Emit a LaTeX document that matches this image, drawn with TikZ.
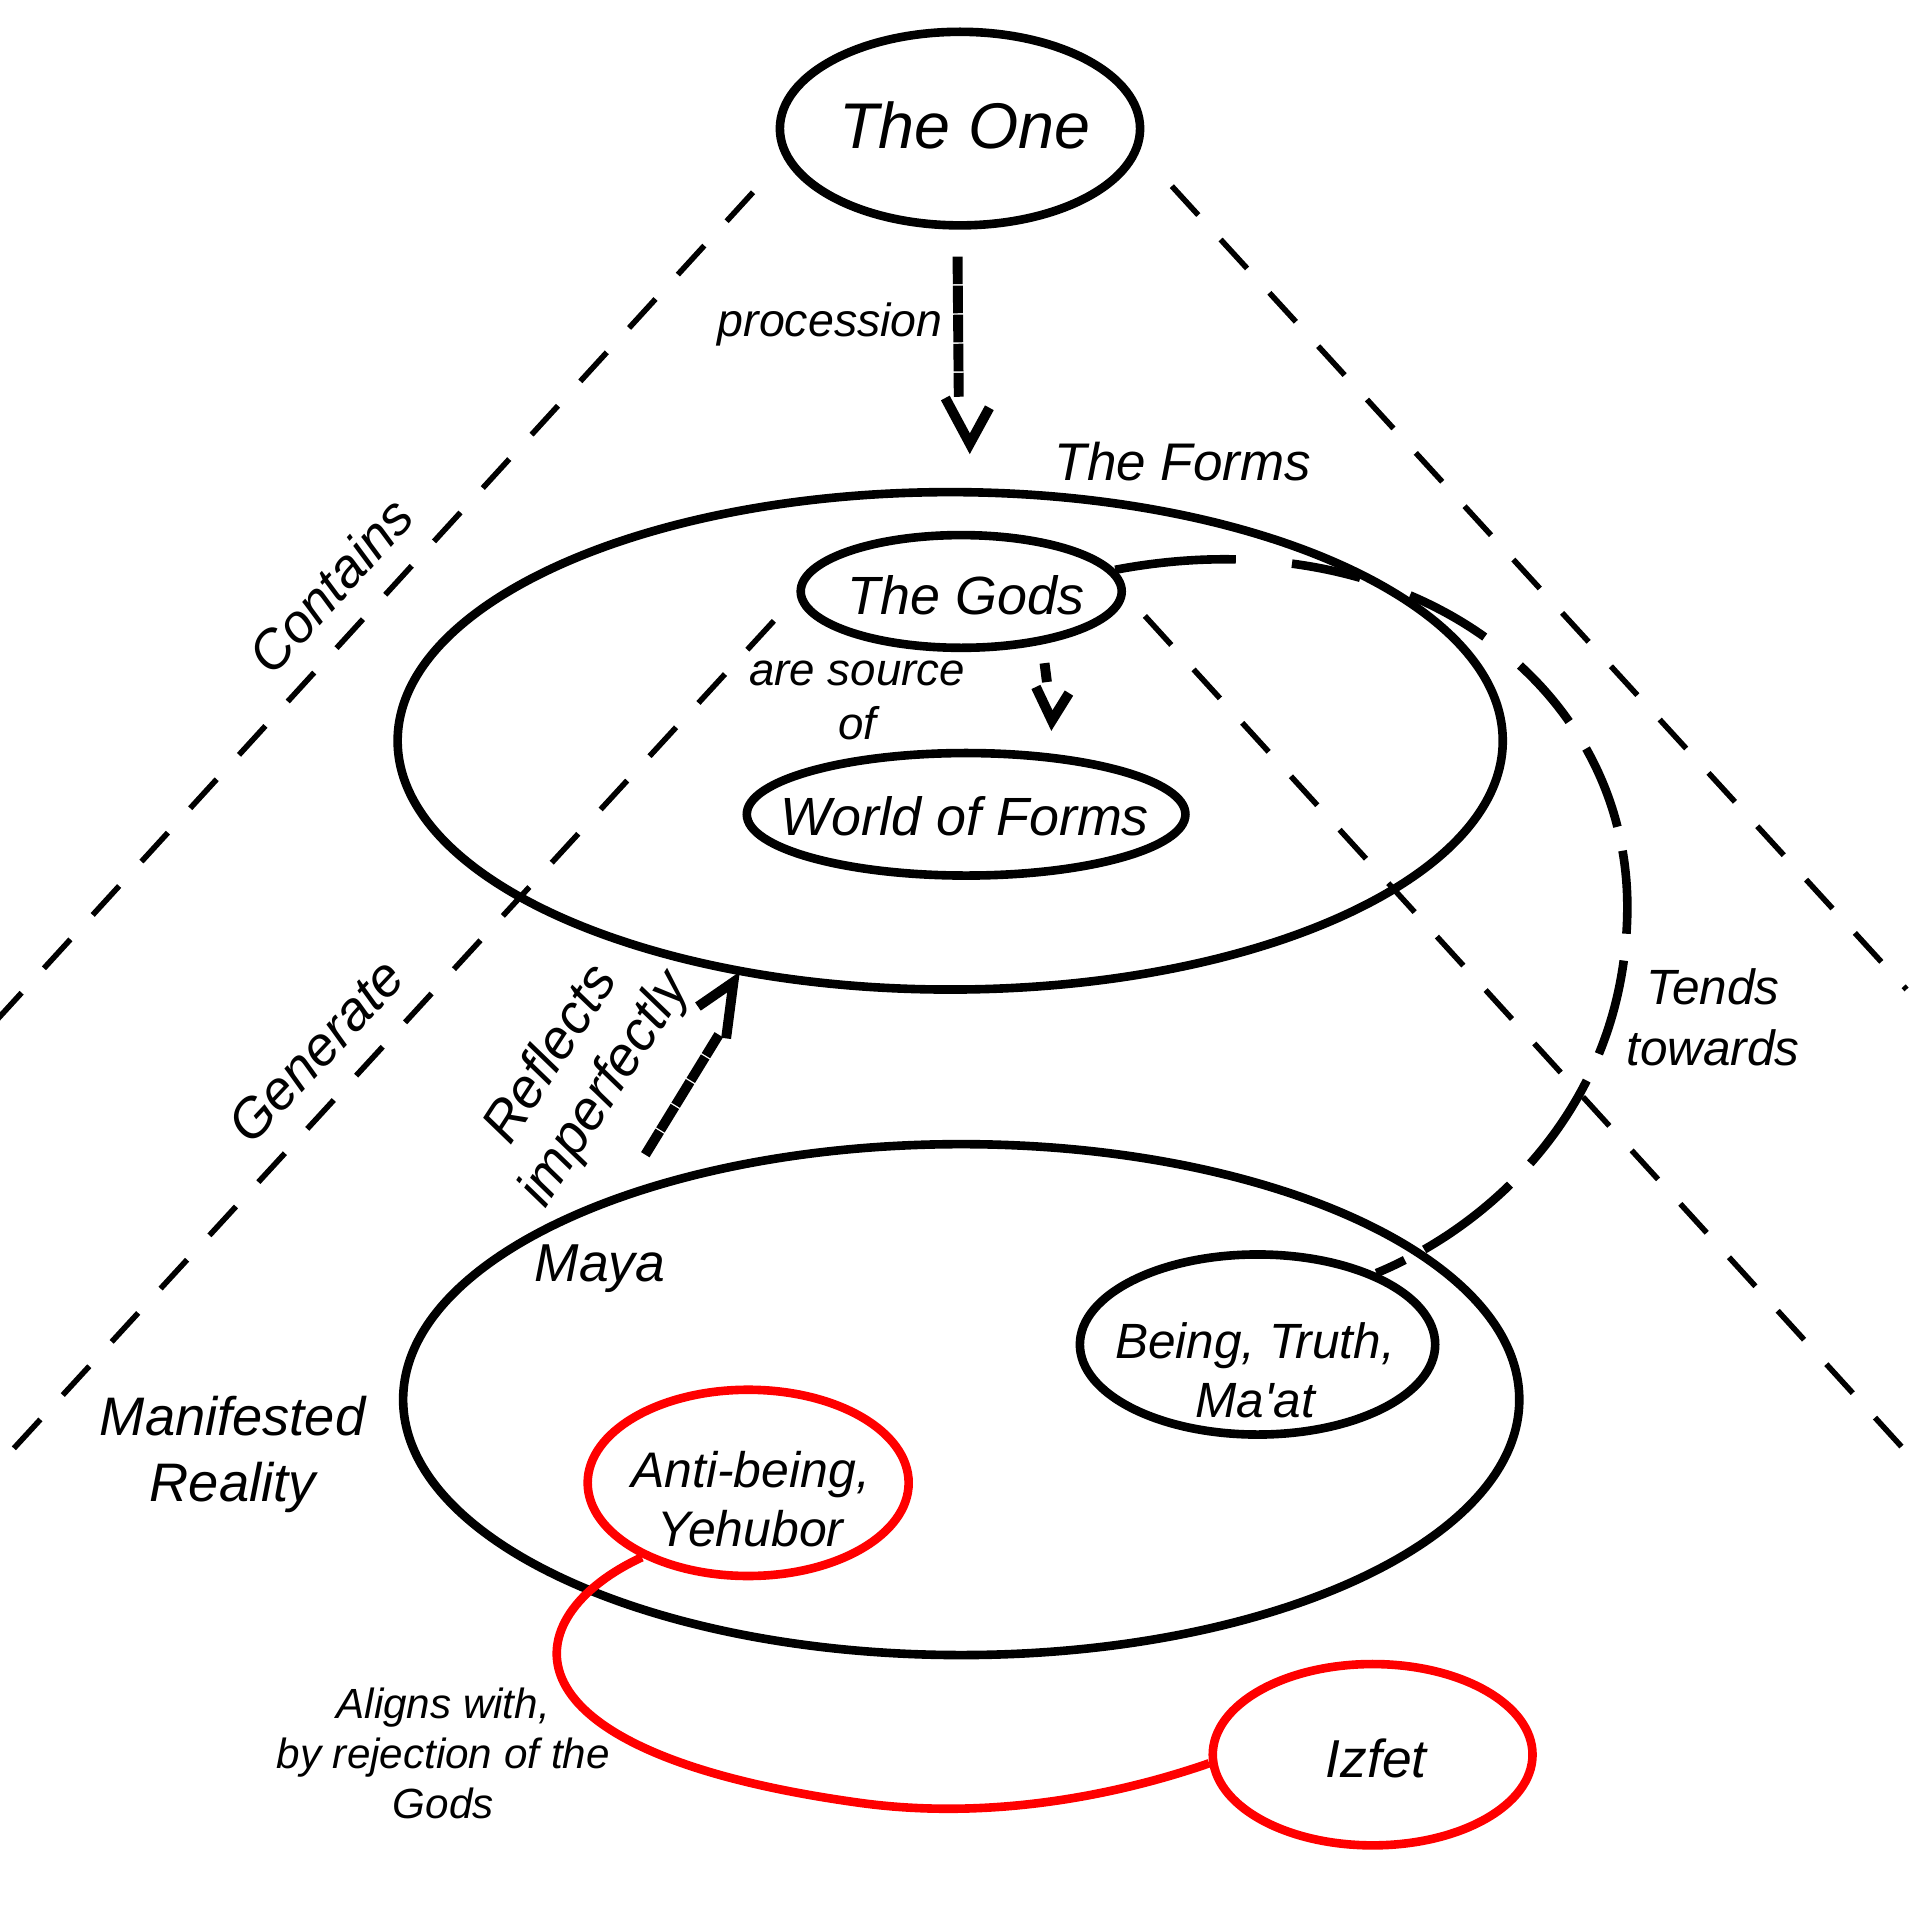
\documentclass[tikz,border=0pt]{standalone}
\usepackage{fontspec}
\setmainfont{Liberation Sans}[Ligatures=TeXOff]
\usetikzlibrary{shapes.geometric}
\newcommand{\fsz}[2]{\fontsize{#1}{#2}\selectfont\itshape}
\begin{document}
\begin{tikzpicture}[x=0.01cm,y=-0.01cm,
  ell/.style={ellipse,draw=black,line width=2pt,inner sep=0pt},
  redell/.style={ell,draw=red},
  lbl/.style={inner sep=0pt,align=center},
  pyr/.style={line width=1.3pt,dash pattern=on 0.32cm off 0.27cm},
  tends/.style={line width=2pt,dash pattern=on 0.99cm off 0.46cm on 0.57cm off 0.43cm on 0.70cm off 0.37cm on 0.61cm off 0.26cm on 0.69cm off 0.20cm on 0.68cm off 0.22cm on 0.79cm off 0.24cm on 0.82cm off 0.24cm on 0.88cm off 0.18cm on 2cm off 0.1cm},
  redlink/.style={line width=2pt,draw=red},
  shaft/.style={line width=2.3pt,dash pattern=on 0.225cm off 0.012cm on 0.225cm off 0.012cm on 0.225cm off 0.012cm on 0.225cm off 0.012cm on 0.3cm off 2cm},
  vhead/.style={line width=2.3pt,line join=miter,line cap=butt},
]
\useasboundingbox (0,0) rectangle (1568,1568);
% pyramid lines
\coordinate (L1a) at (615,157); \coordinate (L1b) at (-10,841);
\coordinate (R1a) at (957,152); \coordinate (R1b) at (1557,808);
\coordinate (L2a) at (632,507); \coordinate (L2b) at (-10,1206);
\coordinate (R2a) at (935,503); \coordinate (R2b) at (1568,1198);
\draw[pyr] (L1a) -- (L1b);
\draw[pyr] (R1a) -- (R1b);
\draw[pyr] (L2a) -- (L2b);
\draw[pyr] (R2a) -- (R2b);
% ellipses
\node[ell,minimum width=2.94cm,minimum height=1.58cm] (one) at (784,105) {};
\node[lbl,font=\fsz{15}{18}] (onetxt) at (788,102) {The One};
\node[ell,minimum width=9.02cm,minimum height=4.06cm] (forms) at (776,605) {};
\node[lbl,font=\fsz{12.3}{15}] (formslbl) at (966,377) {The Forms};
\node[ell,minimum width=2.62cm,minimum height=0.92cm] (gods) at (785,483) {};
\node[lbl,font=\fsz{12.5}{15}] (godstxt) at (789,486) {The Gods};
\node[ell,minimum width=3.58cm,minimum height=1.0cm] (world) at (789,665) {};
\node[lbl,font=\fsz{12.5}{15}] (worldtxt) at (788,667) {World of Forms};
\node[lbl,font=\fsz{10.6}{12.5}] (srclbl) at (700,572) {are source\\of};
\node[ell,minimum width=9.11cm,minimum height=4.17cm] (maya) at (785,1143) {};
\node[lbl,font=\fsz{12.4}{15}] (mayalbl) at (490,1036) {Maya};
\node[ell,minimum width=2.9cm,minimum height=1.47cm] (being) at (1027,1098) {};
\node[lbl,font=\fsz{11.5}{13.7}] (beingtxt) at (1025,1119) {Being, Truth,\\Ma'at};
\node[redell,minimum width=2.62cm,minimum height=1.52cm] (anti) at (611,1211) {};
\node[lbl,font=\fsz{11.6}{13.7}] (antitxt) at (613,1224) {Anti-being,\\Yehubor};
\node[redell,minimum width=2.61cm,minimum height=1.48cm] (izfet) at (1121,1433) {};
\node[lbl,font=\fsz{12.4}{15}] (izfettxt) at (1124,1436) {Izfet};
% labels
\node[lbl,font=\fsz{12.6}{15.4}] (manif) at (190,1188) {Manifested\\Reality};
\node[lbl,font=\fsz{9.8}{11.7}] (aligns) at (362,1432) {Aligns with,\\by rejection of the\\Gods};
\node[lbl,font=\fsz{11.5}{14.2}] (tendslbl) at (1399,831) {Tends\\towards};
\node[lbl,font=\fsz{10.8}{13}] (proclbl) at (678,265) {procession};
\node[lbl,font=\fsz{12.6}{15},rotate=47.5] (contains) at (270,478) {Contains};
\node[lbl,font=\fsz{12.7}{15},rotate=46.7] (generate) at (258,858) {Generate};
\node[lbl,font=\fsz{12.8}{14.8},rotate=57] (reflects) at (473,876) {Reflects\\imperfectly};
% procession arrow (The One -> The Forms)
\coordinate (procA) at ([xshift=-0.02cm,yshift=-0.22cm]one.south);
\coordinate (procB) at (783,324);
\coordinate (procL) at (772,325);
\coordinate (procT) at ([xshift=0.16cm,yshift=0.36cm]forms.north);
\coordinate (procR) at (808,333);
\draw[shaft] (procA) -- (procB);
\draw[vhead] (procL) -- (procT) -- (procR);
% The Gods -> World of Forms
\coordinate (gwA) at ([xshift=0.68cm,yshift=-0.09cm]gods.south);
\coordinate (gwB) at (855,557);
\coordinate (gwL) at (846,561);
\coordinate (gwT) at ([xshift=0.70cm,yshift=0.23cm]world.north);
\coordinate (gwR) at (873,566);
\draw[line width=2.3pt] (gwA) -- (gwB);
\draw[vhead] (gwL) -- (gwT) -- (gwR);
% Maya -> The Forms (reflects imperfectly)
\coordinate (rfA) at (527,943);
\coordinate (rfB) at (587,845);
\coordinate (rfL) at (570,822);
\coordinate (rfT) at (599,802);
\coordinate (rfR) at (593,848);
\draw[shaft] (rfA) -- (rfB);
\draw[vhead] (rfL) -- (rfT) -- (rfR);
% tends towards
\draw[tends] (gods.8) .. controls (1150,420) and (1330,560) .. (1329,742) .. controls (1328,900) and (1220,1000) .. (being.31);
% aligns with
\draw[redlink] (anti.215) .. controls (420,1320) and (400,1430) .. (700,1472) .. controls (820,1489) and (930,1460) .. (izfet.183);
\end{tikzpicture}
\end{document}
